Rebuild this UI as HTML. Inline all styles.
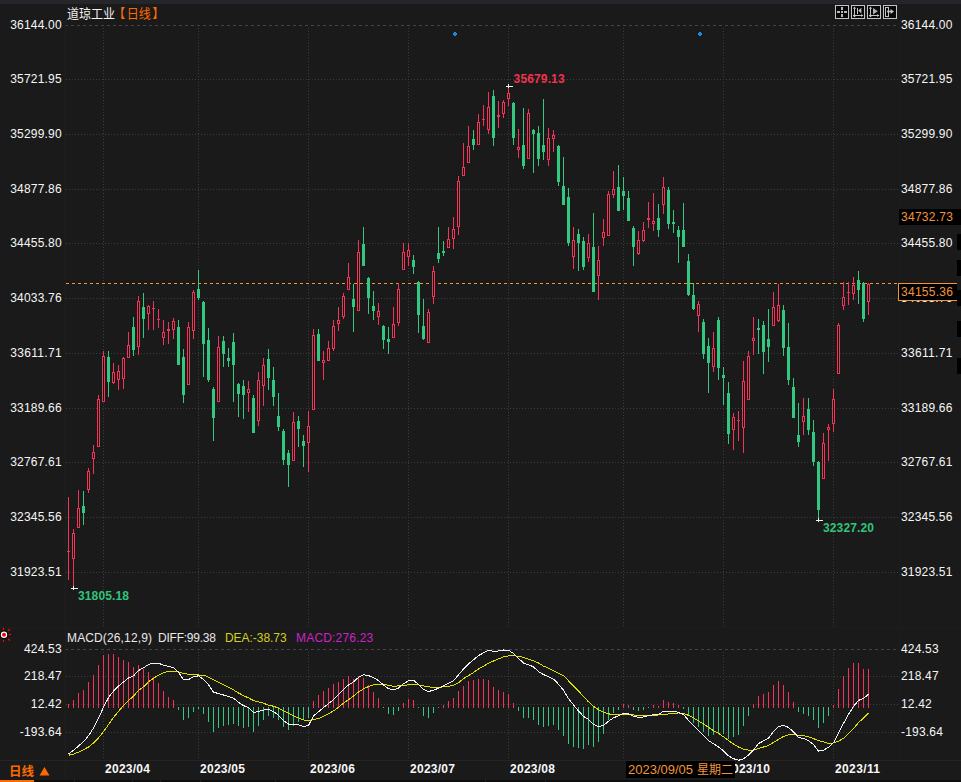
<!DOCTYPE html>
<html lang="zh"><head><meta charset="utf-8"><title>道琼工业 日线</title>
<style>html,body{margin:0;padding:0;background:#1a1a1a;overflow:hidden}body{width:961px;height:782px;font-family:"Liberation Sans","Noto Sans CJK SC",sans-serif}</style>
</head><body>
<svg width="961" height="782" viewBox="0 0 961 782" style="display:block">
<rect width="961" height="782" fill="#1a1a1a"/>
<rect x="0" y="0" width="961" height="4" fill="#25252a"/>
<g shape-rendering="crispEdges">
<rect x="65" y="20" width="1" height="760" fill="#1f1f1f"/>
<rect x="899" y="20" width="1" height="740" fill="#1c1c1c"/>
<rect x="0" y="760" width="961" height="1" fill="#242424"/>
<rect x="0" y="627" width="961" height="1" fill="#1e1e1e"/>
<rect x="64" y="25" width="1" height="1" fill="#212121"/><rect x="900" y="25" width="1" height="1" fill="#212121"/>
<rect x="64" y="35" width="1" height="1" fill="#212121"/><rect x="900" y="35" width="1" height="1" fill="#212121"/>
<rect x="64" y="46" width="1" height="1" fill="#212121"/><rect x="900" y="46" width="1" height="1" fill="#212121"/>
<rect x="64" y="57" width="1" height="1" fill="#212121"/><rect x="900" y="57" width="1" height="1" fill="#212121"/>
<rect x="64" y="68" width="1" height="1" fill="#212121"/><rect x="900" y="68" width="1" height="1" fill="#212121"/>
<rect x="64" y="79" width="1" height="1" fill="#212121"/><rect x="900" y="79" width="1" height="1" fill="#212121"/>
<rect x="64" y="90" width="1" height="1" fill="#212121"/><rect x="900" y="90" width="1" height="1" fill="#212121"/>
<rect x="64" y="101" width="1" height="1" fill="#212121"/><rect x="900" y="101" width="1" height="1" fill="#212121"/>
<rect x="64" y="112" width="1" height="1" fill="#212121"/><rect x="900" y="112" width="1" height="1" fill="#212121"/>
<rect x="64" y="123" width="1" height="1" fill="#212121"/><rect x="900" y="123" width="1" height="1" fill="#212121"/>
<rect x="64" y="134" width="1" height="1" fill="#212121"/><rect x="900" y="134" width="1" height="1" fill="#212121"/>
<rect x="64" y="145" width="1" height="1" fill="#212121"/><rect x="900" y="145" width="1" height="1" fill="#212121"/>
<rect x="64" y="156" width="1" height="1" fill="#212121"/><rect x="900" y="156" width="1" height="1" fill="#212121"/>
<rect x="64" y="167" width="1" height="1" fill="#212121"/><rect x="900" y="167" width="1" height="1" fill="#212121"/>
<rect x="64" y="178" width="1" height="1" fill="#212121"/><rect x="900" y="178" width="1" height="1" fill="#212121"/>
<rect x="64" y="189" width="1" height="1" fill="#212121"/><rect x="900" y="189" width="1" height="1" fill="#212121"/>
<rect x="64" y="200" width="1" height="1" fill="#212121"/><rect x="900" y="200" width="1" height="1" fill="#212121"/>
<rect x="64" y="210" width="1" height="1" fill="#212121"/><rect x="900" y="210" width="1" height="1" fill="#212121"/>
<rect x="64" y="221" width="1" height="1" fill="#212121"/><rect x="900" y="221" width="1" height="1" fill="#212121"/>
<rect x="64" y="232" width="1" height="1" fill="#212121"/><rect x="900" y="232" width="1" height="1" fill="#212121"/>
<rect x="64" y="243" width="1" height="1" fill="#212121"/><rect x="900" y="243" width="1" height="1" fill="#212121"/>
<rect x="64" y="254" width="1" height="1" fill="#212121"/><rect x="900" y="254" width="1" height="1" fill="#212121"/>
<rect x="64" y="265" width="1" height="1" fill="#212121"/><rect x="900" y="265" width="1" height="1" fill="#212121"/>
<rect x="64" y="276" width="1" height="1" fill="#212121"/><rect x="900" y="276" width="1" height="1" fill="#212121"/>
<rect x="64" y="287" width="1" height="1" fill="#212121"/><rect x="900" y="287" width="1" height="1" fill="#212121"/>
<rect x="64" y="298" width="1" height="1" fill="#212121"/><rect x="900" y="298" width="1" height="1" fill="#212121"/>
<rect x="64" y="309" width="1" height="1" fill="#212121"/><rect x="900" y="309" width="1" height="1" fill="#212121"/>
<rect x="64" y="320" width="1" height="1" fill="#212121"/><rect x="900" y="320" width="1" height="1" fill="#212121"/>
<rect x="64" y="331" width="1" height="1" fill="#212121"/><rect x="900" y="331" width="1" height="1" fill="#212121"/>
<rect x="64" y="342" width="1" height="1" fill="#212121"/><rect x="900" y="342" width="1" height="1" fill="#212121"/>
<rect x="64" y="353" width="1" height="1" fill="#212121"/><rect x="900" y="353" width="1" height="1" fill="#212121"/>
<rect x="64" y="364" width="1" height="1" fill="#212121"/><rect x="900" y="364" width="1" height="1" fill="#212121"/>
<rect x="64" y="375" width="1" height="1" fill="#212121"/><rect x="900" y="375" width="1" height="1" fill="#212121"/>
<rect x="64" y="386" width="1" height="1" fill="#212121"/><rect x="900" y="386" width="1" height="1" fill="#212121"/>
<rect x="64" y="396" width="1" height="1" fill="#212121"/><rect x="900" y="396" width="1" height="1" fill="#212121"/>
<rect x="64" y="407" width="1" height="1" fill="#212121"/><rect x="900" y="407" width="1" height="1" fill="#212121"/>
<rect x="64" y="418" width="1" height="1" fill="#212121"/><rect x="900" y="418" width="1" height="1" fill="#212121"/>
<rect x="64" y="429" width="1" height="1" fill="#212121"/><rect x="900" y="429" width="1" height="1" fill="#212121"/>
<rect x="64" y="440" width="1" height="1" fill="#212121"/><rect x="900" y="440" width="1" height="1" fill="#212121"/>
<rect x="64" y="451" width="1" height="1" fill="#212121"/><rect x="900" y="451" width="1" height="1" fill="#212121"/>
<rect x="64" y="462" width="1" height="1" fill="#212121"/><rect x="900" y="462" width="1" height="1" fill="#212121"/>
<rect x="64" y="473" width="1" height="1" fill="#212121"/><rect x="900" y="473" width="1" height="1" fill="#212121"/>
<rect x="64" y="484" width="1" height="1" fill="#212121"/><rect x="900" y="484" width="1" height="1" fill="#212121"/>
<rect x="64" y="495" width="1" height="1" fill="#212121"/><rect x="900" y="495" width="1" height="1" fill="#212121"/>
<rect x="64" y="506" width="1" height="1" fill="#212121"/><rect x="900" y="506" width="1" height="1" fill="#212121"/>
<rect x="64" y="517" width="1" height="1" fill="#212121"/><rect x="900" y="517" width="1" height="1" fill="#212121"/>
<rect x="64" y="528" width="1" height="1" fill="#212121"/><rect x="900" y="528" width="1" height="1" fill="#212121"/>
<rect x="64" y="539" width="1" height="1" fill="#212121"/><rect x="900" y="539" width="1" height="1" fill="#212121"/>
<rect x="64" y="550" width="1" height="1" fill="#212121"/><rect x="900" y="550" width="1" height="1" fill="#212121"/>
<rect x="64" y="561" width="1" height="1" fill="#212121"/><rect x="900" y="561" width="1" height="1" fill="#212121"/>
<rect x="64" y="572" width="1" height="1" fill="#212121"/><rect x="900" y="572" width="1" height="1" fill="#212121"/>
<line x1="66" y1="25.5" x2="898" y2="25.5" stroke="#464646" stroke-width="1" stroke-dasharray="3 3" stroke-dashoffset="1"/>
<line x1="66" y1="79.5" x2="898" y2="79.5" stroke="#3c3c3c" stroke-width="1" stroke-dasharray="1 2"/>
<line x1="66" y1="134.5" x2="898" y2="134.5" stroke="#3c3c3c" stroke-width="1" stroke-dasharray="1 2"/>
<line x1="66" y1="189.5" x2="898" y2="189.5" stroke="#3c3c3c" stroke-width="1" stroke-dasharray="1 2"/>
<line x1="66" y1="243.5" x2="898" y2="243.5" stroke="#3c3c3c" stroke-width="1" stroke-dasharray="1 2"/>
<line x1="66" y1="298.5" x2="898" y2="298.5" stroke="#3c3c3c" stroke-width="1" stroke-dasharray="1 2"/>
<line x1="66" y1="353.5" x2="898" y2="353.5" stroke="#3c3c3c" stroke-width="1" stroke-dasharray="1 2"/>
<line x1="66" y1="408.5" x2="898" y2="408.5" stroke="#3c3c3c" stroke-width="1" stroke-dasharray="1 2"/>
<line x1="66" y1="462.5" x2="898" y2="462.5" stroke="#3c3c3c" stroke-width="1" stroke-dasharray="1 2"/>
<line x1="66" y1="517.5" x2="898" y2="517.5" stroke="#3c3c3c" stroke-width="1" stroke-dasharray="1 2"/>
<line x1="66" y1="572.5" x2="898" y2="572.5" stroke="#3c3c3c" stroke-width="1" stroke-dasharray="1 2"/>
<line x1="103.5" y1="28" x2="103.5" y2="627" stroke="#3c3c3c" stroke-width="1" stroke-dasharray="1 2"/>
<line x1="103.5" y1="652" x2="103.5" y2="760" stroke="#3c3c3c" stroke-width="1" stroke-dasharray="1 2"/>
<line x1="198.5" y1="28" x2="198.5" y2="627" stroke="#3c3c3c" stroke-width="1" stroke-dasharray="1 2"/>
<line x1="198.5" y1="652" x2="198.5" y2="760" stroke="#3c3c3c" stroke-width="1" stroke-dasharray="1 2"/>
<line x1="308.5" y1="28" x2="308.5" y2="627" stroke="#3c3c3c" stroke-width="1" stroke-dasharray="1 2"/>
<line x1="308.5" y1="652" x2="308.5" y2="760" stroke="#3c3c3c" stroke-width="1" stroke-dasharray="1 2"/>
<line x1="408.5" y1="28" x2="408.5" y2="627" stroke="#3c3c3c" stroke-width="1" stroke-dasharray="1 2"/>
<line x1="408.5" y1="652" x2="408.5" y2="760" stroke="#3c3c3c" stroke-width="1" stroke-dasharray="1 2"/>
<line x1="508.5" y1="28" x2="508.5" y2="627" stroke="#3c3c3c" stroke-width="1" stroke-dasharray="1 2"/>
<line x1="508.5" y1="652" x2="508.5" y2="760" stroke="#3c3c3c" stroke-width="1" stroke-dasharray="1 2"/>
<line x1="623.5" y1="28" x2="623.5" y2="627" stroke="#3c3c3c" stroke-width="1" stroke-dasharray="1 2"/>
<line x1="623.5" y1="652" x2="623.5" y2="760" stroke="#3c3c3c" stroke-width="1" stroke-dasharray="1 2"/>
<line x1="723.5" y1="28" x2="723.5" y2="627" stroke="#3c3c3c" stroke-width="1" stroke-dasharray="1 2"/>
<line x1="723.5" y1="652" x2="723.5" y2="760" stroke="#3c3c3c" stroke-width="1" stroke-dasharray="1 2"/>
<line x1="833.5" y1="28" x2="833.5" y2="627" stroke="#3c3c3c" stroke-width="1" stroke-dasharray="1 2"/>
<line x1="833.5" y1="652" x2="833.5" y2="760" stroke="#3c3c3c" stroke-width="1" stroke-dasharray="1 2"/>
<line x1="66" y1="649.5" x2="898" y2="649.5" stroke="#464646" stroke-width="1" stroke-dasharray="3 3" stroke-dashoffset="1"/>
<line x1="66" y1="676.5" x2="898" y2="676.5" stroke="#3c3c3c" stroke-width="1" stroke-dasharray="1 2"/>
<line x1="66" y1="704.5" x2="898" y2="704.5" stroke="#3c3c3c" stroke-width="1" stroke-dasharray="1 2"/>
<line x1="66" y1="732.5" x2="898" y2="732.5" stroke="#3c3c3c" stroke-width="1" stroke-dasharray="1 2"/>
<line x1="66" y1="283.5" x2="898" y2="283.5" stroke="#f0953a" stroke-width="1" stroke-dasharray="3 3"/>
<rect x="68" y="497" width="1" height="83" fill="#f5335a"/>
<rect x="67" y="551" width="3" height="1" fill="#f5335a"/>
<rect x="73" y="529" width="1" height="4" fill="#f5335a"/>
<rect x="73" y="559" width="1" height="29" fill="#f5335a"/>
<rect x="72" y="533" width="3" height="26" fill="#f5335a"/>
<rect x="73" y="534" width="1" height="24" fill="#0a0a0a"/>
<rect x="78" y="490" width="1" height="18" fill="#f5335a"/>
<rect x="77" y="508" width="3" height="20" fill="#f5335a"/>
<rect x="78" y="509" width="1" height="18" fill="#0a0a0a"/>
<rect x="83" y="491" width="1" height="34" fill="#33c880"/>
<rect x="82" y="506" width="3" height="7" fill="#33c880"/>
<rect x="88" y="468" width="1" height="3" fill="#f5335a"/>
<rect x="88" y="490" width="1" height="3" fill="#f5335a"/>
<rect x="87" y="471" width="3" height="19" fill="#f5335a"/>
<rect x="88" y="472" width="1" height="17" fill="#0a0a0a"/>
<rect x="93" y="445" width="1" height="7" fill="#f5335a"/>
<rect x="93" y="459" width="1" height="15" fill="#f5335a"/>
<rect x="92" y="452" width="3" height="7" fill="#f5335a"/>
<rect x="93" y="453" width="1" height="5" fill="#0a0a0a"/>
<rect x="98" y="395" width="1" height="4" fill="#f5335a"/>
<rect x="97" y="399" width="3" height="48" fill="#f5335a"/>
<rect x="98" y="400" width="1" height="46" fill="#0a0a0a"/>
<rect x="103" y="351" width="1" height="5" fill="#f5335a"/>
<rect x="102" y="356" width="3" height="46" fill="#f5335a"/>
<rect x="103" y="357" width="1" height="44" fill="#0a0a0a"/>
<rect x="108" y="351" width="1" height="46" fill="#33c880"/>
<rect x="107" y="357" width="3" height="25" fill="#33c880"/>
<rect x="113" y="363" width="1" height="9" fill="#f5335a"/>
<rect x="113" y="383" width="1" height="1" fill="#f5335a"/>
<rect x="112" y="372" width="3" height="11" fill="#f5335a"/>
<rect x="113" y="373" width="1" height="9" fill="#0a0a0a"/>
<rect x="118" y="365" width="1" height="6" fill="#f5335a"/>
<rect x="118" y="380" width="1" height="10" fill="#f5335a"/>
<rect x="117" y="371" width="3" height="9" fill="#f5335a"/>
<rect x="118" y="372" width="1" height="7" fill="#0a0a0a"/>
<rect x="123" y="357" width="1" height="1" fill="#f5335a"/>
<rect x="123" y="379" width="1" height="10" fill="#f5335a"/>
<rect x="122" y="358" width="3" height="21" fill="#f5335a"/>
<rect x="123" y="359" width="1" height="19" fill="#0a0a0a"/>
<rect x="128" y="332" width="1" height="13" fill="#f5335a"/>
<rect x="127" y="345" width="3" height="13" fill="#f5335a"/>
<rect x="128" y="346" width="1" height="11" fill="#0a0a0a"/>
<rect x="133" y="317" width="1" height="39" fill="#33c880"/>
<rect x="132" y="327" width="3" height="23" fill="#33c880"/>
<rect x="138" y="296" width="1" height="5" fill="#f5335a"/>
<rect x="138" y="347" width="1" height="8" fill="#f5335a"/>
<rect x="137" y="301" width="3" height="46" fill="#f5335a"/>
<rect x="138" y="302" width="1" height="44" fill="#0a0a0a"/>
<rect x="143" y="293" width="1" height="45" fill="#33c880"/>
<rect x="142" y="307" width="3" height="12" fill="#33c880"/>
<rect x="148" y="305" width="1" height="1" fill="#f5335a"/>
<rect x="148" y="314" width="1" height="16" fill="#f5335a"/>
<rect x="147" y="306" width="3" height="8" fill="#f5335a"/>
<rect x="148" y="307" width="1" height="6" fill="#0a0a0a"/>
<rect x="153" y="301" width="1" height="29" fill="#f5335a"/>
<rect x="152" y="308" width="3" height="1" fill="#f5335a"/>
<rect x="158" y="309" width="1" height="19" fill="#f5335a"/>
<rect x="157" y="319" width="3" height="1" fill="#f5335a"/>
<rect x="163" y="320" width="1" height="12" fill="#f5335a"/>
<rect x="163" y="338" width="1" height="7" fill="#f5335a"/>
<rect x="162" y="332" width="3" height="6" fill="#f5335a"/>
<rect x="163" y="333" width="1" height="4" fill="#0a0a0a"/>
<rect x="168" y="322" width="1" height="7" fill="#f5335a"/>
<rect x="168" y="331" width="1" height="13" fill="#f5335a"/>
<rect x="167" y="329" width="3" height="2" fill="#f5335a"/>
<rect x="173" y="318" width="1" height="3" fill="#f5335a"/>
<rect x="173" y="330" width="1" height="9" fill="#f5335a"/>
<rect x="172" y="321" width="3" height="9" fill="#f5335a"/>
<rect x="173" y="322" width="1" height="7" fill="#0a0a0a"/>
<rect x="178" y="320" width="1" height="45" fill="#33c880"/>
<rect x="177" y="327" width="3" height="38" fill="#33c880"/>
<rect x="183" y="349" width="1" height="54" fill="#33c880"/>
<rect x="182" y="357" width="3" height="38" fill="#33c880"/>
<rect x="188" y="322" width="1" height="5" fill="#f5335a"/>
<rect x="187" y="327" width="3" height="58" fill="#f5335a"/>
<rect x="188" y="328" width="1" height="56" fill="#0a0a0a"/>
<rect x="193" y="290" width="1" height="2" fill="#f5335a"/>
<rect x="193" y="331" width="1" height="8" fill="#f5335a"/>
<rect x="192" y="292" width="3" height="39" fill="#f5335a"/>
<rect x="193" y="293" width="1" height="37" fill="#0a0a0a"/>
<rect x="198" y="270" width="1" height="30" fill="#33c880"/>
<rect x="197" y="289" width="3" height="9" fill="#33c880"/>
<rect x="203" y="301" width="1" height="76" fill="#33c880"/>
<rect x="202" y="302" width="3" height="42" fill="#33c880"/>
<rect x="208" y="328" width="1" height="54" fill="#33c880"/>
<rect x="207" y="340" width="3" height="40" fill="#33c880"/>
<rect x="213" y="387" width="1" height="54" fill="#33c880"/>
<rect x="212" y="389" width="3" height="29" fill="#33c880"/>
<rect x="218" y="336" width="1" height="11" fill="#f5335a"/>
<rect x="217" y="347" width="3" height="55" fill="#f5335a"/>
<rect x="218" y="348" width="1" height="53" fill="#0a0a0a"/>
<rect x="223" y="336" width="1" height="31" fill="#33c880"/>
<rect x="222" y="341" width="3" height="13" fill="#33c880"/>
<rect x="228" y="348" width="1" height="19" fill="#33c880"/>
<rect x="227" y="358" width="3" height="3" fill="#33c880"/>
<rect x="233" y="333" width="1" height="69" fill="#33c880"/>
<rect x="232" y="342" width="3" height="23" fill="#33c880"/>
<rect x="238" y="383" width="1" height="34" fill="#33c880"/>
<rect x="237" y="384" width="3" height="10" fill="#33c880"/>
<rect x="243" y="380" width="1" height="39" fill="#33c880"/>
<rect x="242" y="386" width="3" height="9" fill="#33c880"/>
<rect x="248" y="381" width="1" height="8" fill="#f5335a"/>
<rect x="248" y="393" width="1" height="19" fill="#f5335a"/>
<rect x="247" y="389" width="3" height="4" fill="#f5335a"/>
<rect x="248" y="390" width="1" height="2" fill="#0a0a0a"/>
<rect x="253" y="395" width="1" height="38" fill="#33c880"/>
<rect x="252" y="398" width="3" height="35" fill="#33c880"/>
<rect x="258" y="372" width="1" height="8" fill="#f5335a"/>
<rect x="258" y="421" width="1" height="5" fill="#f5335a"/>
<rect x="257" y="380" width="3" height="41" fill="#f5335a"/>
<rect x="258" y="381" width="1" height="39" fill="#0a0a0a"/>
<rect x="263" y="358" width="1" height="7" fill="#f5335a"/>
<rect x="263" y="386" width="1" height="20" fill="#f5335a"/>
<rect x="262" y="365" width="3" height="21" fill="#f5335a"/>
<rect x="263" y="366" width="1" height="19" fill="#0a0a0a"/>
<rect x="268" y="349" width="1" height="41" fill="#33c880"/>
<rect x="267" y="359" width="3" height="19" fill="#33c880"/>
<rect x="273" y="367" width="1" height="39" fill="#33c880"/>
<rect x="272" y="380" width="3" height="17" fill="#33c880"/>
<rect x="278" y="393" width="1" height="38" fill="#33c880"/>
<rect x="277" y="416" width="3" height="11" fill="#33c880"/>
<rect x="283" y="429" width="1" height="36" fill="#33c880"/>
<rect x="282" y="431" width="3" height="29" fill="#33c880"/>
<rect x="288" y="450" width="1" height="37" fill="#33c880"/>
<rect x="287" y="453" width="3" height="12" fill="#33c880"/>
<rect x="293" y="412" width="1" height="10" fill="#f5335a"/>
<rect x="292" y="422" width="3" height="39" fill="#f5335a"/>
<rect x="293" y="423" width="1" height="37" fill="#0a0a0a"/>
<rect x="298" y="416" width="1" height="31" fill="#33c880"/>
<rect x="297" y="421" width="3" height="8" fill="#33c880"/>
<rect x="303" y="435" width="1" height="32" fill="#33c880"/>
<rect x="302" y="441" width="3" height="5" fill="#33c880"/>
<rect x="308" y="411" width="1" height="15" fill="#f5335a"/>
<rect x="308" y="443" width="1" height="29" fill="#f5335a"/>
<rect x="307" y="426" width="3" height="17" fill="#f5335a"/>
<rect x="308" y="427" width="1" height="15" fill="#0a0a0a"/>
<rect x="313" y="329" width="1" height="6" fill="#f5335a"/>
<rect x="312" y="335" width="3" height="75" fill="#f5335a"/>
<rect x="313" y="336" width="1" height="73" fill="#0a0a0a"/>
<rect x="318" y="329" width="1" height="32" fill="#33c880"/>
<rect x="317" y="334" width="3" height="27" fill="#33c880"/>
<rect x="323" y="351" width="1" height="9" fill="#f5335a"/>
<rect x="323" y="363" width="1" height="17" fill="#f5335a"/>
<rect x="322" y="360" width="3" height="3" fill="#f5335a"/>
<rect x="323" y="361" width="1" height="1" fill="#0a0a0a"/>
<rect x="328" y="341" width="1" height="7" fill="#f5335a"/>
<rect x="327" y="348" width="3" height="13" fill="#f5335a"/>
<rect x="328" y="349" width="1" height="11" fill="#0a0a0a"/>
<rect x="333" y="320" width="1" height="6" fill="#f5335a"/>
<rect x="333" y="349" width="1" height="2" fill="#f5335a"/>
<rect x="332" y="326" width="3" height="23" fill="#f5335a"/>
<rect x="333" y="327" width="1" height="21" fill="#0a0a0a"/>
<rect x="338" y="307" width="1" height="13" fill="#f5335a"/>
<rect x="338" y="324" width="1" height="7" fill="#f5335a"/>
<rect x="337" y="320" width="3" height="4" fill="#f5335a"/>
<rect x="338" y="321" width="1" height="2" fill="#0a0a0a"/>
<rect x="343" y="293" width="1" height="3" fill="#f5335a"/>
<rect x="343" y="317" width="1" height="2" fill="#f5335a"/>
<rect x="342" y="296" width="3" height="21" fill="#f5335a"/>
<rect x="343" y="297" width="1" height="19" fill="#0a0a0a"/>
<rect x="348" y="263" width="1" height="14" fill="#f5335a"/>
<rect x="347" y="277" width="3" height="13" fill="#f5335a"/>
<rect x="348" y="278" width="1" height="11" fill="#0a0a0a"/>
<rect x="353" y="284" width="1" height="48" fill="#33c880"/>
<rect x="352" y="299" width="3" height="8" fill="#33c880"/>
<rect x="358" y="240" width="1" height="12" fill="#f5335a"/>
<rect x="357" y="252" width="3" height="59" fill="#f5335a"/>
<rect x="358" y="253" width="1" height="57" fill="#0a0a0a"/>
<rect x="363" y="227" width="1" height="39" fill="#33c880"/>
<rect x="362" y="244" width="3" height="22" fill="#33c880"/>
<rect x="368" y="277" width="1" height="37" fill="#33c880"/>
<rect x="367" y="278" width="3" height="20" fill="#33c880"/>
<rect x="373" y="291" width="1" height="29" fill="#33c880"/>
<rect x="372" y="306" width="3" height="5" fill="#33c880"/>
<rect x="378" y="303" width="1" height="8" fill="#f5335a"/>
<rect x="378" y="317" width="1" height="8" fill="#f5335a"/>
<rect x="377" y="311" width="3" height="6" fill="#f5335a"/>
<rect x="378" y="312" width="1" height="4" fill="#0a0a0a"/>
<rect x="383" y="325" width="1" height="24" fill="#33c880"/>
<rect x="382" y="326" width="3" height="14" fill="#33c880"/>
<rect x="388" y="327" width="1" height="27" fill="#33c880"/>
<rect x="387" y="339" width="3" height="3" fill="#33c880"/>
<rect x="393" y="307" width="1" height="17" fill="#f5335a"/>
<rect x="392" y="324" width="3" height="14" fill="#f5335a"/>
<rect x="393" y="325" width="1" height="12" fill="#0a0a0a"/>
<rect x="398" y="283" width="1" height="6" fill="#f5335a"/>
<rect x="398" y="323" width="1" height="3" fill="#f5335a"/>
<rect x="397" y="289" width="3" height="34" fill="#f5335a"/>
<rect x="398" y="290" width="1" height="32" fill="#0a0a0a"/>
<rect x="403" y="243" width="1" height="9" fill="#f5335a"/>
<rect x="402" y="252" width="3" height="18" fill="#f5335a"/>
<rect x="403" y="253" width="1" height="16" fill="#0a0a0a"/>
<rect x="408" y="243" width="1" height="7" fill="#f5335a"/>
<rect x="408" y="257" width="1" height="9" fill="#f5335a"/>
<rect x="407" y="250" width="3" height="7" fill="#f5335a"/>
<rect x="408" y="251" width="1" height="5" fill="#0a0a0a"/>
<rect x="413" y="255" width="1" height="19" fill="#33c880"/>
<rect x="412" y="260" width="3" height="7" fill="#33c880"/>
<rect x="418" y="281" width="1" height="52" fill="#33c880"/>
<rect x="417" y="282" width="3" height="33" fill="#33c880"/>
<rect x="423" y="299" width="1" height="41" fill="#33c880"/>
<rect x="422" y="326" width="3" height="13" fill="#33c880"/>
<rect x="428" y="309" width="1" height="3" fill="#f5335a"/>
<rect x="427" y="312" width="3" height="31" fill="#f5335a"/>
<rect x="428" y="313" width="1" height="29" fill="#0a0a0a"/>
<rect x="433" y="266" width="1" height="5" fill="#f5335a"/>
<rect x="433" y="297" width="1" height="7" fill="#f5335a"/>
<rect x="432" y="271" width="3" height="26" fill="#f5335a"/>
<rect x="433" y="272" width="1" height="24" fill="#0a0a0a"/>
<rect x="438" y="227" width="1" height="36" fill="#33c880"/>
<rect x="437" y="253" width="3" height="6" fill="#33c880"/>
<rect x="443" y="241" width="1" height="15" fill="#33c880"/>
<rect x="442" y="251" width="3" height="2" fill="#33c880"/>
<rect x="448" y="227" width="1" height="12" fill="#f5335a"/>
<rect x="447" y="239" width="3" height="9" fill="#f5335a"/>
<rect x="448" y="240" width="1" height="7" fill="#0a0a0a"/>
<rect x="453" y="217" width="1" height="12" fill="#f5335a"/>
<rect x="453" y="239" width="1" height="10" fill="#f5335a"/>
<rect x="452" y="229" width="3" height="10" fill="#f5335a"/>
<rect x="453" y="230" width="1" height="8" fill="#0a0a0a"/>
<rect x="458" y="176" width="1" height="5" fill="#f5335a"/>
<rect x="458" y="227" width="1" height="8" fill="#f5335a"/>
<rect x="457" y="181" width="3" height="46" fill="#f5335a"/>
<rect x="458" y="182" width="1" height="44" fill="#0a0a0a"/>
<rect x="463" y="143" width="1" height="24" fill="#f5335a"/>
<rect x="462" y="167" width="3" height="9" fill="#f5335a"/>
<rect x="463" y="168" width="1" height="7" fill="#0a0a0a"/>
<rect x="468" y="126" width="1" height="20" fill="#f5335a"/>
<rect x="467" y="146" width="3" height="17" fill="#f5335a"/>
<rect x="468" y="147" width="1" height="15" fill="#0a0a0a"/>
<rect x="473" y="130" width="1" height="20" fill="#33c880"/>
<rect x="472" y="139" width="3" height="6" fill="#33c880"/>
<rect x="478" y="114" width="1" height="8" fill="#f5335a"/>
<rect x="477" y="122" width="3" height="23" fill="#f5335a"/>
<rect x="478" y="123" width="1" height="21" fill="#0a0a0a"/>
<rect x="483" y="105" width="1" height="21" fill="#f5335a"/>
<rect x="482" y="119" width="3" height="1" fill="#f5335a"/>
<rect x="488" y="92" width="1" height="15" fill="#f5335a"/>
<rect x="488" y="130" width="1" height="4" fill="#f5335a"/>
<rect x="487" y="107" width="3" height="23" fill="#f5335a"/>
<rect x="488" y="108" width="1" height="21" fill="#0a0a0a"/>
<rect x="493" y="90" width="1" height="56" fill="#33c880"/>
<rect x="492" y="96" width="3" height="42" fill="#33c880"/>
<rect x="498" y="101" width="1" height="14" fill="#f5335a"/>
<rect x="498" y="117" width="1" height="11" fill="#f5335a"/>
<rect x="497" y="115" width="3" height="2" fill="#f5335a"/>
<rect x="503" y="100" width="1" height="2" fill="#f5335a"/>
<rect x="503" y="114" width="1" height="4" fill="#f5335a"/>
<rect x="502" y="102" width="3" height="12" fill="#f5335a"/>
<rect x="503" y="103" width="1" height="10" fill="#0a0a0a"/>
<rect x="508" y="88" width="1" height="5" fill="#f5335a"/>
<rect x="508" y="99" width="1" height="7" fill="#f5335a"/>
<rect x="507" y="93" width="3" height="6" fill="#f5335a"/>
<rect x="508" y="94" width="1" height="4" fill="#0a0a0a"/>
<rect x="513" y="102" width="1" height="43" fill="#33c880"/>
<rect x="512" y="103" width="3" height="35" fill="#33c880"/>
<rect x="518" y="129" width="1" height="18" fill="#f5335a"/>
<rect x="518" y="150" width="1" height="8" fill="#f5335a"/>
<rect x="517" y="147" width="3" height="3" fill="#f5335a"/>
<rect x="518" y="148" width="1" height="1" fill="#0a0a0a"/>
<rect x="523" y="108" width="1" height="61" fill="#33c880"/>
<rect x="522" y="145" width="3" height="21" fill="#33c880"/>
<rect x="528" y="109" width="1" height="4" fill="#f5335a"/>
<rect x="527" y="113" width="3" height="46" fill="#f5335a"/>
<rect x="528" y="114" width="1" height="44" fill="#0a0a0a"/>
<rect x="533" y="129" width="1" height="44" fill="#33c880"/>
<rect x="532" y="130" width="3" height="4" fill="#33c880"/>
<rect x="538" y="126" width="1" height="40" fill="#33c880"/>
<rect x="537" y="133" width="3" height="26" fill="#33c880"/>
<rect x="543" y="99" width="1" height="61" fill="#33c880"/>
<rect x="542" y="145" width="3" height="7" fill="#33c880"/>
<rect x="548" y="128" width="1" height="10" fill="#f5335a"/>
<rect x="548" y="160" width="1" height="6" fill="#f5335a"/>
<rect x="547" y="138" width="3" height="22" fill="#f5335a"/>
<rect x="548" y="139" width="1" height="20" fill="#0a0a0a"/>
<rect x="553" y="130" width="1" height="5" fill="#f5335a"/>
<rect x="553" y="139" width="1" height="13" fill="#f5335a"/>
<rect x="552" y="135" width="3" height="4" fill="#f5335a"/>
<rect x="553" y="136" width="1" height="2" fill="#0a0a0a"/>
<rect x="558" y="145" width="1" height="41" fill="#33c880"/>
<rect x="557" y="146" width="3" height="36" fill="#33c880"/>
<rect x="563" y="157" width="1" height="48" fill="#33c880"/>
<rect x="562" y="186" width="3" height="19" fill="#33c880"/>
<rect x="568" y="188" width="1" height="58" fill="#33c880"/>
<rect x="567" y="197" width="3" height="46" fill="#33c880"/>
<rect x="573" y="227" width="1" height="13" fill="#f5335a"/>
<rect x="573" y="257" width="1" height="12" fill="#f5335a"/>
<rect x="572" y="240" width="3" height="17" fill="#f5335a"/>
<rect x="573" y="241" width="1" height="15" fill="#0a0a0a"/>
<rect x="578" y="229" width="1" height="42" fill="#33c880"/>
<rect x="577" y="234" width="3" height="9" fill="#33c880"/>
<rect x="583" y="237" width="1" height="33" fill="#33c880"/>
<rect x="582" y="241" width="3" height="26" fill="#33c880"/>
<rect x="588" y="234" width="1" height="9" fill="#f5335a"/>
<rect x="588" y="258" width="1" height="4" fill="#f5335a"/>
<rect x="587" y="243" width="3" height="15" fill="#f5335a"/>
<rect x="588" y="244" width="1" height="13" fill="#0a0a0a"/>
<rect x="593" y="213" width="1" height="79" fill="#33c880"/>
<rect x="592" y="247" width="3" height="45" fill="#33c880"/>
<rect x="598" y="246" width="1" height="14" fill="#f5335a"/>
<rect x="598" y="276" width="1" height="24" fill="#f5335a"/>
<rect x="597" y="260" width="3" height="16" fill="#f5335a"/>
<rect x="598" y="261" width="1" height="14" fill="#0a0a0a"/>
<rect x="603" y="219" width="1" height="13" fill="#f5335a"/>
<rect x="603" y="238" width="1" height="8" fill="#f5335a"/>
<rect x="602" y="232" width="3" height="6" fill="#f5335a"/>
<rect x="603" y="233" width="1" height="4" fill="#0a0a0a"/>
<rect x="608" y="191" width="1" height="3" fill="#f5335a"/>
<rect x="607" y="194" width="3" height="42" fill="#f5335a"/>
<rect x="608" y="195" width="1" height="40" fill="#0a0a0a"/>
<rect x="613" y="171" width="1" height="18" fill="#f5335a"/>
<rect x="613" y="195" width="1" height="3" fill="#f5335a"/>
<rect x="612" y="189" width="3" height="6" fill="#f5335a"/>
<rect x="613" y="190" width="1" height="4" fill="#0a0a0a"/>
<rect x="618" y="165" width="1" height="46" fill="#33c880"/>
<rect x="617" y="187" width="3" height="24" fill="#33c880"/>
<rect x="623" y="177" width="1" height="33" fill="#33c880"/>
<rect x="622" y="191" width="3" height="5" fill="#33c880"/>
<rect x="628" y="191" width="1" height="30" fill="#33c880"/>
<rect x="627" y="198" width="3" height="23" fill="#33c880"/>
<rect x="633" y="226" width="1" height="40" fill="#33c880"/>
<rect x="632" y="228" width="3" height="19" fill="#33c880"/>
<rect x="638" y="231" width="1" height="9" fill="#f5335a"/>
<rect x="638" y="254" width="1" height="1" fill="#f5335a"/>
<rect x="637" y="240" width="3" height="14" fill="#f5335a"/>
<rect x="638" y="241" width="1" height="12" fill="#0a0a0a"/>
<rect x="643" y="222" width="1" height="8" fill="#f5335a"/>
<rect x="643" y="241" width="1" height="1" fill="#f5335a"/>
<rect x="642" y="230" width="3" height="11" fill="#f5335a"/>
<rect x="643" y="231" width="1" height="9" fill="#0a0a0a"/>
<rect x="648" y="202" width="1" height="16" fill="#f5335a"/>
<rect x="648" y="220" width="1" height="8" fill="#f5335a"/>
<rect x="647" y="218" width="3" height="2" fill="#f5335a"/>
<rect x="653" y="193" width="1" height="28" fill="#f5335a"/>
<rect x="653" y="224" width="1" height="7" fill="#f5335a"/>
<rect x="652" y="221" width="3" height="3" fill="#f5335a"/>
<rect x="653" y="222" width="1" height="1" fill="#0a0a0a"/>
<rect x="658" y="204" width="1" height="33" fill="#33c880"/>
<rect x="657" y="218" width="3" height="12" fill="#33c880"/>
<rect x="663" y="177" width="1" height="10" fill="#f5335a"/>
<rect x="663" y="205" width="1" height="9" fill="#f5335a"/>
<rect x="662" y="187" width="3" height="18" fill="#f5335a"/>
<rect x="663" y="188" width="1" height="16" fill="#0a0a0a"/>
<rect x="668" y="187" width="1" height="42" fill="#33c880"/>
<rect x="667" y="190" width="3" height="34" fill="#33c880"/>
<rect x="673" y="210" width="1" height="23" fill="#33c880"/>
<rect x="672" y="222" width="3" height="2" fill="#33c880"/>
<rect x="678" y="226" width="1" height="37" fill="#33c880"/>
<rect x="677" y="230" width="3" height="7" fill="#33c880"/>
<rect x="683" y="203" width="1" height="44" fill="#33c880"/>
<rect x="682" y="230" width="3" height="17" fill="#33c880"/>
<rect x="688" y="254" width="1" height="42" fill="#33c880"/>
<rect x="687" y="261" width="3" height="34" fill="#33c880"/>
<rect x="693" y="283" width="1" height="27" fill="#33c880"/>
<rect x="692" y="295" width="3" height="14" fill="#33c880"/>
<rect x="698" y="301" width="1" height="3" fill="#f5335a"/>
<rect x="698" y="316" width="1" height="16" fill="#f5335a"/>
<rect x="697" y="304" width="3" height="12" fill="#f5335a"/>
<rect x="698" y="305" width="1" height="10" fill="#0a0a0a"/>
<rect x="703" y="319" width="1" height="40" fill="#33c880"/>
<rect x="702" y="322" width="3" height="32" fill="#33c880"/>
<rect x="708" y="338" width="1" height="55" fill="#33c880"/>
<rect x="707" y="346" width="3" height="17" fill="#33c880"/>
<rect x="713" y="332" width="1" height="16" fill="#f5335a"/>
<rect x="713" y="367" width="1" height="5" fill="#f5335a"/>
<rect x="712" y="348" width="3" height="19" fill="#f5335a"/>
<rect x="713" y="349" width="1" height="17" fill="#0a0a0a"/>
<rect x="718" y="317" width="1" height="63" fill="#33c880"/>
<rect x="717" y="320" width="3" height="48" fill="#33c880"/>
<rect x="723" y="367" width="1" height="38" fill="#33c880"/>
<rect x="722" y="375" width="3" height="3" fill="#33c880"/>
<rect x="728" y="382" width="1" height="62" fill="#33c880"/>
<rect x="727" y="393" width="3" height="41" fill="#33c880"/>
<rect x="733" y="413" width="1" height="4" fill="#f5335a"/>
<rect x="733" y="430" width="1" height="20" fill="#f5335a"/>
<rect x="732" y="417" width="3" height="13" fill="#f5335a"/>
<rect x="733" y="418" width="1" height="11" fill="#0a0a0a"/>
<rect x="738" y="411" width="1" height="30" fill="#f5335a"/>
<rect x="737" y="420" width="3" height="1" fill="#f5335a"/>
<rect x="743" y="361" width="1" height="20" fill="#f5335a"/>
<rect x="743" y="428" width="1" height="25" fill="#f5335a"/>
<rect x="742" y="381" width="3" height="47" fill="#f5335a"/>
<rect x="743" y="382" width="1" height="45" fill="#0a0a0a"/>
<rect x="748" y="351" width="1" height="5" fill="#f5335a"/>
<rect x="747" y="356" width="3" height="44" fill="#f5335a"/>
<rect x="748" y="357" width="1" height="42" fill="#0a0a0a"/>
<rect x="753" y="317" width="1" height="21" fill="#f5335a"/>
<rect x="753" y="341" width="1" height="14" fill="#f5335a"/>
<rect x="752" y="338" width="3" height="3" fill="#f5335a"/>
<rect x="753" y="339" width="1" height="1" fill="#0a0a0a"/>
<rect x="758" y="319" width="1" height="35" fill="#33c880"/>
<rect x="757" y="328" width="3" height="2" fill="#33c880"/>
<rect x="763" y="321" width="1" height="53" fill="#33c880"/>
<rect x="762" y="325" width="3" height="27" fill="#33c880"/>
<rect x="768" y="309" width="1" height="53" fill="#33c880"/>
<rect x="767" y="339" width="3" height="8" fill="#33c880"/>
<rect x="773" y="292" width="1" height="15" fill="#f5335a"/>
<rect x="772" y="307" width="3" height="19" fill="#f5335a"/>
<rect x="773" y="308" width="1" height="17" fill="#0a0a0a"/>
<rect x="778" y="284" width="1" height="21" fill="#f5335a"/>
<rect x="778" y="321" width="1" height="1" fill="#f5335a"/>
<rect x="777" y="305" width="3" height="16" fill="#f5335a"/>
<rect x="778" y="306" width="1" height="14" fill="#0a0a0a"/>
<rect x="783" y="305" width="1" height="51" fill="#33c880"/>
<rect x="782" y="310" width="3" height="38" fill="#33c880"/>
<rect x="788" y="323" width="1" height="62" fill="#33c880"/>
<rect x="787" y="347" width="3" height="33" fill="#33c880"/>
<rect x="793" y="378" width="1" height="40" fill="#33c880"/>
<rect x="792" y="387" width="3" height="31" fill="#33c880"/>
<rect x="798" y="403" width="1" height="44" fill="#33c880"/>
<rect x="797" y="435" width="3" height="7" fill="#33c880"/>
<rect x="803" y="398" width="1" height="18" fill="#f5335a"/>
<rect x="803" y="422" width="1" height="13" fill="#f5335a"/>
<rect x="802" y="416" width="3" height="6" fill="#f5335a"/>
<rect x="803" y="417" width="1" height="4" fill="#0a0a0a"/>
<rect x="808" y="398" width="1" height="37" fill="#33c880"/>
<rect x="807" y="409" width="3" height="21" fill="#33c880"/>
<rect x="813" y="420" width="1" height="46" fill="#33c880"/>
<rect x="812" y="432" width="3" height="30" fill="#33c880"/>
<rect x="818" y="461" width="1" height="59" fill="#33c880"/>
<rect x="817" y="462" width="3" height="48" fill="#33c880"/>
<rect x="823" y="433" width="1" height="10" fill="#f5335a"/>
<rect x="822" y="443" width="3" height="36" fill="#f5335a"/>
<rect x="823" y="444" width="1" height="34" fill="#0a0a0a"/>
<rect x="828" y="424" width="1" height="3" fill="#f5335a"/>
<rect x="828" y="430" width="1" height="31" fill="#f5335a"/>
<rect x="827" y="427" width="3" height="3" fill="#f5335a"/>
<rect x="828" y="428" width="1" height="1" fill="#0a0a0a"/>
<rect x="833" y="389" width="1" height="10" fill="#f5335a"/>
<rect x="833" y="424" width="1" height="8" fill="#f5335a"/>
<rect x="832" y="399" width="3" height="25" fill="#f5335a"/>
<rect x="833" y="400" width="1" height="23" fill="#0a0a0a"/>
<rect x="838" y="323" width="1" height="2" fill="#f5335a"/>
<rect x="837" y="325" width="3" height="49" fill="#f5335a"/>
<rect x="838" y="326" width="1" height="47" fill="#0a0a0a"/>
<rect x="843" y="282" width="1" height="15" fill="#f5335a"/>
<rect x="843" y="306" width="1" height="4" fill="#f5335a"/>
<rect x="842" y="297" width="3" height="9" fill="#f5335a"/>
<rect x="843" y="298" width="1" height="7" fill="#0a0a0a"/>
<rect x="848" y="282" width="1" height="23" fill="#f5335a"/>
<rect x="847" y="292" width="3" height="1" fill="#f5335a"/>
<rect x="853" y="277" width="1" height="8" fill="#f5335a"/>
<rect x="853" y="294" width="1" height="6" fill="#f5335a"/>
<rect x="852" y="285" width="3" height="9" fill="#f5335a"/>
<rect x="853" y="286" width="1" height="7" fill="#0a0a0a"/>
<rect x="858" y="271" width="1" height="33" fill="#33c880"/>
<rect x="857" y="280" width="3" height="10" fill="#33c880"/>
<rect x="863" y="282" width="1" height="40" fill="#33c880"/>
<rect x="862" y="283" width="3" height="36" fill="#33c880"/>
<rect x="868" y="283" width="1" height="1" fill="#f5335a"/>
<rect x="868" y="302" width="1" height="13" fill="#f5335a"/>
<rect x="867" y="284" width="3" height="18" fill="#f5335a"/>
<rect x="868" y="285" width="1" height="16" fill="#0a0a0a"/>
<rect x="68" y="704" width="1" height="4" fill="#f5335a"/>
<rect x="73" y="700" width="1" height="8" fill="#f5335a"/>
<rect x="78" y="693" width="1" height="15" fill="#f5335a"/>
<rect x="83" y="690" width="1" height="18" fill="#f5335a"/>
<rect x="88" y="682" width="1" height="26" fill="#f5335a"/>
<rect x="93" y="675" width="1" height="33" fill="#f5335a"/>
<rect x="98" y="665" width="1" height="43" fill="#f5335a"/>
<rect x="103" y="655" width="1" height="53" fill="#f5335a"/>
<rect x="108" y="654" width="1" height="54" fill="#f5335a"/>
<rect x="113" y="654" width="1" height="54" fill="#f5335a"/>
<rect x="118" y="657" width="1" height="51" fill="#f5335a"/>
<rect x="123" y="660" width="1" height="48" fill="#f5335a"/>
<rect x="128" y="662" width="1" height="46" fill="#f5335a"/>
<rect x="133" y="667" width="1" height="41" fill="#f5335a"/>
<rect x="138" y="665" width="1" height="43" fill="#f5335a"/>
<rect x="143" y="669" width="1" height="39" fill="#f5335a"/>
<rect x="148" y="672" width="1" height="36" fill="#f5335a"/>
<rect x="153" y="677" width="1" height="31" fill="#f5335a"/>
<rect x="158" y="683" width="1" height="25" fill="#f5335a"/>
<rect x="163" y="691" width="1" height="17" fill="#f5335a"/>
<rect x="168" y="697" width="1" height="11" fill="#f5335a"/>
<rect x="173" y="700" width="1" height="8" fill="#f5335a"/>
<rect x="178" y="707" width="1" height="3" fill="#33c880"/>
<rect x="183" y="707" width="1" height="13" fill="#33c880"/>
<rect x="188" y="707" width="1" height="11" fill="#33c880"/>
<rect x="193" y="707" width="1" height="5" fill="#33c880"/>
<rect x="198" y="707" width="1" height="2" fill="#33c880"/>
<rect x="203" y="707" width="1" height="7" fill="#33c880"/>
<rect x="208" y="707" width="1" height="15" fill="#33c880"/>
<rect x="213" y="707" width="1" height="25" fill="#33c880"/>
<rect x="218" y="707" width="1" height="21" fill="#33c880"/>
<rect x="223" y="707" width="1" height="19" fill="#33c880"/>
<rect x="228" y="707" width="1" height="18" fill="#33c880"/>
<rect x="233" y="707" width="1" height="17" fill="#33c880"/>
<rect x="238" y="707" width="1" height="19" fill="#33c880"/>
<rect x="243" y="707" width="1" height="21" fill="#33c880"/>
<rect x="248" y="707" width="1" height="20" fill="#33c880"/>
<rect x="253" y="707" width="1" height="25" fill="#33c880"/>
<rect x="258" y="707" width="1" height="19" fill="#33c880"/>
<rect x="263" y="707" width="1" height="13" fill="#33c880"/>
<rect x="268" y="707" width="1" height="9" fill="#33c880"/>
<rect x="273" y="707" width="1" height="11" fill="#33c880"/>
<rect x="278" y="707" width="1" height="13" fill="#33c880"/>
<rect x="283" y="707" width="1" height="20" fill="#33c880"/>
<rect x="288" y="707" width="1" height="23" fill="#33c880"/>
<rect x="293" y="707" width="1" height="19" fill="#33c880"/>
<rect x="298" y="707" width="1" height="15" fill="#33c880"/>
<rect x="303" y="707" width="1" height="13" fill="#33c880"/>
<rect x="308" y="707" width="1" height="11" fill="#33c880"/>
<rect x="313" y="701" width="1" height="7" fill="#f5335a"/>
<rect x="318" y="695" width="1" height="13" fill="#f5335a"/>
<rect x="323" y="691" width="1" height="17" fill="#f5335a"/>
<rect x="328" y="688" width="1" height="20" fill="#f5335a"/>
<rect x="333" y="684" width="1" height="24" fill="#f5335a"/>
<rect x="338" y="682" width="1" height="26" fill="#f5335a"/>
<rect x="343" y="679" width="1" height="29" fill="#f5335a"/>
<rect x="348" y="676" width="1" height="32" fill="#f5335a"/>
<rect x="353" y="679" width="1" height="29" fill="#f5335a"/>
<rect x="358" y="676" width="1" height="32" fill="#f5335a"/>
<rect x="363" y="678" width="1" height="30" fill="#f5335a"/>
<rect x="368" y="685" width="1" height="23" fill="#f5335a"/>
<rect x="373" y="692" width="1" height="16" fill="#f5335a"/>
<rect x="378" y="698" width="1" height="10" fill="#f5335a"/>
<rect x="383" y="707" width="1" height="1" fill="#33c880"/>
<rect x="388" y="707" width="1" height="7" fill="#33c880"/>
<rect x="393" y="707" width="1" height="8" fill="#33c880"/>
<rect x="398" y="707" width="1" height="4" fill="#33c880"/>
<rect x="403" y="703" width="1" height="5" fill="#f5335a"/>
<rect x="408" y="699" width="1" height="9" fill="#f5335a"/>
<rect x="413" y="700" width="1" height="8" fill="#f5335a"/>
<rect x="418" y="707" width="1" height="1" fill="#33c880"/>
<rect x="423" y="707" width="1" height="9" fill="#33c880"/>
<rect x="428" y="707" width="1" height="11" fill="#33c880"/>
<rect x="433" y="707" width="1" height="6" fill="#33c880"/>
<rect x="438" y="707" width="1" height="1" fill="#33c880"/>
<rect x="443" y="705" width="1" height="3" fill="#f5335a"/>
<rect x="448" y="701" width="1" height="7" fill="#f5335a"/>
<rect x="453" y="698" width="1" height="10" fill="#f5335a"/>
<rect x="458" y="691" width="1" height="17" fill="#f5335a"/>
<rect x="463" y="686" width="1" height="22" fill="#f5335a"/>
<rect x="468" y="681" width="1" height="27" fill="#f5335a"/>
<rect x="473" y="680" width="1" height="28" fill="#f5335a"/>
<rect x="478" y="679" width="1" height="29" fill="#f5335a"/>
<rect x="483" y="679" width="1" height="29" fill="#f5335a"/>
<rect x="488" y="680" width="1" height="28" fill="#f5335a"/>
<rect x="493" y="687" width="1" height="21" fill="#f5335a"/>
<rect x="498" y="690" width="1" height="18" fill="#f5335a"/>
<rect x="503" y="692" width="1" height="16" fill="#f5335a"/>
<rect x="508" y="694" width="1" height="14" fill="#f5335a"/>
<rect x="513" y="703" width="1" height="5" fill="#f5335a"/>
<rect x="518" y="707" width="1" height="4" fill="#33c880"/>
<rect x="523" y="707" width="1" height="11" fill="#33c880"/>
<rect x="528" y="707" width="1" height="11" fill="#33c880"/>
<rect x="533" y="707" width="1" height="13" fill="#33c880"/>
<rect x="538" y="707" width="1" height="18" fill="#33c880"/>
<rect x="543" y="707" width="1" height="20" fill="#33c880"/>
<rect x="548" y="707" width="1" height="19" fill="#33c880"/>
<rect x="553" y="707" width="1" height="18" fill="#33c880"/>
<rect x="558" y="707" width="1" height="23" fill="#33c880"/>
<rect x="563" y="707" width="1" height="29" fill="#33c880"/>
<rect x="568" y="707" width="1" height="37" fill="#33c880"/>
<rect x="573" y="707" width="1" height="40" fill="#33c880"/>
<rect x="578" y="707" width="1" height="41" fill="#33c880"/>
<rect x="583" y="707" width="1" height="42" fill="#33c880"/>
<rect x="588" y="707" width="1" height="38" fill="#33c880"/>
<rect x="593" y="707" width="1" height="40" fill="#33c880"/>
<rect x="598" y="707" width="1" height="35" fill="#33c880"/>
<rect x="603" y="707" width="1" height="27" fill="#33c880"/>
<rect x="608" y="707" width="1" height="13" fill="#33c880"/>
<rect x="613" y="707" width="1" height="6" fill="#33c880"/>
<rect x="618" y="707" width="1" height="3" fill="#33c880"/>
<rect x="623" y="704" width="1" height="4" fill="#f5335a"/>
<rect x="628" y="705" width="1" height="3" fill="#f5335a"/>
<rect x="633" y="707" width="1" height="3" fill="#33c880"/>
<rect x="638" y="707" width="1" height="4" fill="#33c880"/>
<rect x="643" y="707" width="1" height="3" fill="#33c880"/>
<rect x="648" y="707" width="1" height="1" fill="#33c880"/>
<rect x="653" y="705" width="1" height="3" fill="#f5335a"/>
<rect x="658" y="706" width="1" height="2" fill="#f5335a"/>
<rect x="663" y="700" width="1" height="8" fill="#f5335a"/>
<rect x="668" y="702" width="1" height="6" fill="#f5335a"/>
<rect x="673" y="703" width="1" height="5" fill="#f5335a"/>
<rect x="678" y="705" width="1" height="3" fill="#f5335a"/>
<rect x="683" y="707" width="1" height="2" fill="#33c880"/>
<rect x="688" y="707" width="1" height="9" fill="#33c880"/>
<rect x="693" y="707" width="1" height="16" fill="#33c880"/>
<rect x="698" y="707" width="1" height="20" fill="#33c880"/>
<rect x="703" y="707" width="1" height="25" fill="#33c880"/>
<rect x="708" y="707" width="1" height="29" fill="#33c880"/>
<rect x="713" y="707" width="1" height="28" fill="#33c880"/>
<rect x="718" y="707" width="1" height="27" fill="#33c880"/>
<rect x="723" y="707" width="1" height="27" fill="#33c880"/>
<rect x="728" y="707" width="1" height="32" fill="#33c880"/>
<rect x="733" y="707" width="1" height="30" fill="#33c880"/>
<rect x="738" y="707" width="1" height="28" fill="#33c880"/>
<rect x="743" y="707" width="1" height="19" fill="#33c880"/>
<rect x="748" y="707" width="1" height="9" fill="#33c880"/>
<rect x="753" y="704" width="1" height="4" fill="#f5335a"/>
<rect x="758" y="696" width="1" height="12" fill="#f5335a"/>
<rect x="763" y="694" width="1" height="14" fill="#f5335a"/>
<rect x="768" y="692" width="1" height="16" fill="#f5335a"/>
<rect x="773" y="685" width="1" height="23" fill="#f5335a"/>
<rect x="778" y="681" width="1" height="27" fill="#f5335a"/>
<rect x="783" y="685" width="1" height="23" fill="#f5335a"/>
<rect x="788" y="692" width="1" height="16" fill="#f5335a"/>
<rect x="793" y="702" width="1" height="6" fill="#f5335a"/>
<rect x="798" y="707" width="1" height="5" fill="#33c880"/>
<rect x="803" y="707" width="1" height="7" fill="#33c880"/>
<rect x="808" y="707" width="1" height="9" fill="#33c880"/>
<rect x="813" y="707" width="1" height="13" fill="#33c880"/>
<rect x="818" y="707" width="1" height="21" fill="#33c880"/>
<rect x="823" y="707" width="1" height="16" fill="#33c880"/>
<rect x="828" y="707" width="1" height="9" fill="#33c880"/>
<rect x="833" y="705" width="1" height="3" fill="#f5335a"/>
<rect x="838" y="689" width="1" height="19" fill="#f5335a"/>
<rect x="843" y="676" width="1" height="32" fill="#f5335a"/>
<rect x="848" y="668" width="1" height="40" fill="#f5335a"/>
<rect x="853" y="663" width="1" height="45" fill="#f5335a"/>
<rect x="858" y="663" width="1" height="45" fill="#f5335a"/>
<rect x="863" y="669" width="1" height="39" fill="#f5335a"/>
<rect x="868" y="669" width="1" height="39" fill="#f5335a"/>
<rect x="506" y="86" width="7" height="1" fill="#f0f0f0"/>
<rect x="508" y="84" width="1" height="4" fill="#f0f0f0"/>
<rect x="816" y="520" width="7" height="1" fill="#f0f0f0"/>
<rect x="818" y="518" width="1" height="4" fill="#f0f0f0"/>
<rect x="71" y="588" width="7" height="1" fill="#f0f0f0"/>
<rect x="73" y="586" width="1" height="4" fill="#f0f0f0"/>
<rect x="957" y="234" width="4" height="16" fill="#000"/>
<rect x="957" y="260" width="4" height="16" fill="#000"/>
<rect x="957" y="290" width="4" height="16" fill="#000"/>
<rect x="957" y="321" width="4" height="16" fill="#000"/>
<rect x="957" y="358" width="4" height="16" fill="#000"/>
<rect x="0" y="780" width="961" height="2" fill="#0e0e0e"/>
<rect x="74" y="780" width="1" height="2" fill="#222"/>
<rect x="132" y="780" width="1" height="2" fill="#222"/>
<rect x="160" y="780" width="1" height="2" fill="#222"/>
<rect x="200" y="780" width="1" height="2" fill="#222"/>
<rect x="275" y="780" width="1" height="2" fill="#222"/>
<rect x="485" y="780" width="1" height="2" fill="#222"/>
<rect x="545" y="780" width="1" height="2" fill="#222"/>
<rect x="0" y="780" width="34" height="2" fill="#ff6a00"/>
</g>
<polyline points="68.5,755.2 73.5,754.2 78.5,752.1 83.5,749.7 88.5,747.0 93.5,743.0 98.5,737.9 103.5,731.7 108.5,724.6 113.5,717.5 118.5,711.3 123.5,705.6 128.5,700.7 133.5,696.0 138.5,690.5 143.5,686.9 148.5,681.8 153.5,678.3 158.5,675.2 163.5,672.6 168.5,671.6 173.5,671.6 178.5,672.0 183.5,673.6 188.5,674.2 193.5,674.6 198.5,675.0 203.5,675.2 208.5,677.1 213.5,679.7 218.5,682.4 223.5,684.8 228.5,687.3 233.5,689.9 238.5,693.0 243.5,695.6 248.5,697.9 253.5,700.6 258.5,701.8 263.5,703.2 268.5,705.2 273.5,706.2 278.5,708.3 283.5,710.7 288.5,713.4 293.5,715.8 298.5,717.9 303.5,719.9 308.5,720.5 313.5,719.5 318.5,718.5 323.5,716.4 328.5,713.8 333.5,710.9 338.5,707.3 343.5,703.2 348.5,699.7 353.5,696.0 358.5,692.0 363.5,688.9 368.5,686.5 373.5,684.8 378.5,684.2 383.5,684.4 388.5,685.4 393.5,686.3 398.5,685.9 403.5,685.4 408.5,684.8 413.5,684.4 418.5,684.8 423.5,685.9 428.5,686.9 433.5,687.3 438.5,687.3 443.5,686.9 448.5,686.3 453.5,685.2 458.5,682.8 463.5,678.7 468.5,675.7 473.5,672.6 478.5,668.9 483.5,666.1 488.5,663.4 493.5,661.0 498.5,658.9 503.5,656.9 508.5,655.9 513.5,655.7 518.5,656.3 523.5,657.3 528.5,659.3 533.5,660.8 538.5,663.0 543.5,666.1 548.5,668.1 553.5,670.6 558.5,673.2 563.5,675.7 568.5,680.8 573.5,685.9 578.5,690.9 583.5,696.7 588.5,701.8 593.5,706.2 598.5,709.7 603.5,712.4 608.5,713.8 613.5,714.8 618.5,715.0 623.5,714.4 628.5,714.2 633.5,715.0 638.5,715.4 643.5,715.4 648.5,715.4 653.5,715.4 658.5,715.0 663.5,714.4 668.5,714.0 673.5,713.4 678.5,713.0 683.5,713.4 688.5,715.4 693.5,717.9 698.5,720.9 703.5,724.0 708.5,727.3 713.5,730.7 718.5,733.4 723.5,736.8 728.5,740.5 733.5,744.0 738.5,747.0 743.5,749.1 748.5,750.1 753.5,750.1 758.5,748.5 763.5,747.0 768.5,745.5 773.5,742.4 778.5,739.4 783.5,736.5 788.5,734.8 793.5,734.6 798.5,735.3 803.5,735.6 808.5,736.8 813.5,738.6 818.5,740.5 823.5,741.9 828.5,743.4 833.5,743.0 838.5,741.3 843.5,738.3 848.5,733.8 853.5,728.7 858.5,722.6 863.5,718.1 868.5,713.0" fill="none" stroke="#e0e000" stroke-width="1" shape-rendering="crispEdges"/>
<polyline points="68.5,753.9 73.5,750.4 78.5,746.0 83.5,741.7 88.5,735.7 93.5,728.1 98.5,718.3 103.5,707.1 108.5,697.6 113.5,691.1 118.5,686.1 123.5,682.0 128.5,678.0 133.5,675.9 138.5,670.6 143.5,667.8 148.5,664.5 153.5,663.2 158.5,663.2 163.5,665.2 168.5,666.4 173.5,667.5 178.5,672.4 183.5,679.8 188.5,679.5 193.5,676.9 198.5,675.8 203.5,679.4 208.5,684.7 213.5,692.1 218.5,693.6 223.5,695.0 228.5,696.5 233.5,698.2 238.5,702.3 243.5,705.6 248.5,707.5 253.5,712.7 258.5,711.3 263.5,710.1 268.5,709.4 273.5,711.5 278.5,715.4 283.5,720.6 288.5,724.1 293.5,724.7 298.5,724.9 303.5,726.5 308.5,725.5 313.5,716.0 318.5,711.7 323.5,707.6 328.5,703.7 333.5,699.6 338.5,694.4 343.5,689.3 348.5,685.0 353.5,681.9 358.5,677.3 363.5,674.8 368.5,675.6 373.5,677.6 378.5,680.5 383.5,685.0 388.5,688.7 393.5,689.8 398.5,688.0 403.5,683.7 408.5,680.9 413.5,680.3 418.5,684.5 423.5,689.5 428.5,691.5 433.5,690.3 438.5,688.2 443.5,685.9 448.5,683.1 453.5,680.9 458.5,674.8 463.5,669.1 468.5,663.9 473.5,659.7 478.5,655.6 483.5,652.9 488.5,650.2 493.5,651.5 498.5,651.0 503.5,650.0 508.5,650.2 513.5,653.5 518.5,658.3 523.5,663.1 528.5,664.7 533.5,666.9 538.5,671.5 543.5,674.6 548.5,676.8 553.5,679.1 558.5,684.2 563.5,690.1 568.5,698.6 573.5,704.9 578.5,710.9 583.5,716.4 588.5,719.5 593.5,724.4 598.5,726.6 603.5,725.5 608.5,721.2 613.5,717.9 618.5,715.7 623.5,713.2 628.5,714.0 633.5,716.1 638.5,717.3 643.5,717.0 648.5,715.7 653.5,714.8 658.5,714.5 663.5,711.2 668.5,711.2 673.5,711.4 678.5,712.3 683.5,714.4 688.5,720.5 693.5,725.7 698.5,730.2 703.5,735.5 708.5,740.7 713.5,743.7 718.5,747.0 723.5,750.9 728.5,755.8 733.5,758.7 738.5,760.3 743.5,758.8 748.5,755.0 753.5,750.2 758.5,743.6 763.5,740.9 768.5,738.0 773.5,731.7 778.5,726.6 783.5,725.3 788.5,727.4 793.5,731.9 798.5,737.3 803.5,738.5 808.5,740.7 813.5,744.4 818.5,751.1 823.5,750.1 828.5,747.4 833.5,742.7 838.5,732.7 843.5,723.4 848.5,714.4 853.5,706.5 858.5,700.4 863.5,698.6 868.5,694.1" fill="none" stroke="#f2f2f2" stroke-width="1" shape-rendering="crispEdges"/>
<g shape-rendering="crispEdges"><rect x="453" y="33" width="4" height="2" fill="#1c92ec"/><rect x="454" y="32" width="2" height="4" fill="#1c92ec"/><rect x="454" y="33" width="2" height="2" fill="#1b84d8"/></g>
<g shape-rendering="crispEdges"><rect x="698" y="33" width="4" height="2" fill="#1c92ec"/><rect x="699" y="32" width="2" height="4" fill="#1c92ec"/><rect x="699" y="33" width="2" height="2" fill="#1b84d8"/></g>
<g font-family="'Liberation Sans','Noto Sans CJK SC',sans-serif">
<text x="61.6" y="28.5" fill="#f6f6f6" font-size="12" text-anchor="end" textLength="51.4" lengthAdjust="spacing">36144.00</text>
<text x="901" y="28.5" fill="#f6f6f6" font-size="12" text-anchor="start" textLength="51.4" lengthAdjust="spacing">36144.00</text>
<text x="61.6" y="82.5" fill="#f6f6f6" font-size="12" text-anchor="end" textLength="51.4" lengthAdjust="spacing">35721.95</text>
<text x="901" y="82.5" fill="#f6f6f6" font-size="12" text-anchor="start" textLength="51.4" lengthAdjust="spacing">35721.95</text>
<text x="61.6" y="137.5" fill="#f6f6f6" font-size="12" text-anchor="end" textLength="51.4" lengthAdjust="spacing">35299.90</text>
<text x="901" y="137.5" fill="#f6f6f6" font-size="12" text-anchor="start" textLength="51.4" lengthAdjust="spacing">35299.90</text>
<text x="61.6" y="192.5" fill="#f6f6f6" font-size="12" text-anchor="end" textLength="51.4" lengthAdjust="spacing">34877.86</text>
<text x="901" y="192.5" fill="#f6f6f6" font-size="12" text-anchor="start" textLength="51.4" lengthAdjust="spacing">34877.86</text>
<text x="61.6" y="246.5" fill="#f6f6f6" font-size="12" text-anchor="end" textLength="51.4" lengthAdjust="spacing">34455.80</text>
<text x="901" y="246.5" fill="#f6f6f6" font-size="12" text-anchor="start" textLength="51.4" lengthAdjust="spacing">34455.80</text>
<text x="61.6" y="301.5" fill="#f6f6f6" font-size="12" text-anchor="end" textLength="51.4" lengthAdjust="spacing">34033.76</text>
<text x="901" y="301.5" fill="#f6f6f6" font-size="12" text-anchor="start" textLength="51.4" lengthAdjust="spacing">34033.76</text>
<text x="61.6" y="356.5" fill="#f6f6f6" font-size="12" text-anchor="end" textLength="51.4" lengthAdjust="spacing">33611.71</text>
<text x="901" y="356.5" fill="#f6f6f6" font-size="12" text-anchor="start" textLength="51.4" lengthAdjust="spacing">33611.71</text>
<text x="61.6" y="411.5" fill="#f6f6f6" font-size="12" text-anchor="end" textLength="51.4" lengthAdjust="spacing">33189.66</text>
<text x="901" y="411.5" fill="#f6f6f6" font-size="12" text-anchor="start" textLength="51.4" lengthAdjust="spacing">33189.66</text>
<text x="61.6" y="465.5" fill="#f6f6f6" font-size="12" text-anchor="end" textLength="51.4" lengthAdjust="spacing">32767.61</text>
<text x="901" y="465.5" fill="#f6f6f6" font-size="12" text-anchor="start" textLength="51.4" lengthAdjust="spacing">32767.61</text>
<text x="61.6" y="520.5" fill="#f6f6f6" font-size="12" text-anchor="end" textLength="51.4" lengthAdjust="spacing">32345.56</text>
<text x="901" y="520.5" fill="#f6f6f6" font-size="12" text-anchor="start" textLength="51.4" lengthAdjust="spacing">32345.56</text>
<text x="61.6" y="575.5" fill="#f6f6f6" font-size="12" text-anchor="end" textLength="51.4" lengthAdjust="spacing">31923.51</text>
<text x="901" y="575.5" fill="#f6f6f6" font-size="12" text-anchor="start" textLength="51.4" lengthAdjust="spacing">31923.51</text>
<text x="61.6" y="652.5" fill="#f6f6f6" font-size="12" text-anchor="end" textLength="37.6" lengthAdjust="spacing">424.53</text>
<text x="901" y="652.5" fill="#f6f6f6" font-size="12" text-anchor="start" textLength="37.6" lengthAdjust="spacing">424.53</text>
<text x="61.6" y="679.5" fill="#f6f6f6" font-size="12" text-anchor="end" textLength="37.6" lengthAdjust="spacing">218.47</text>
<text x="901" y="679.5" fill="#f6f6f6" font-size="12" text-anchor="start" textLength="37.6" lengthAdjust="spacing">218.47</text>
<text x="61.6" y="707.5" fill="#f6f6f6" font-size="12" text-anchor="end" textLength="30.8" lengthAdjust="spacing">12.42</text>
<text x="901" y="707.5" fill="#f6f6f6" font-size="12" text-anchor="start" textLength="30.8" lengthAdjust="spacing">12.42</text>
<text x="61.6" y="735.5" fill="#f6f6f6" font-size="12" text-anchor="end" textLength="41.9" lengthAdjust="spacing">-193.64</text>
<text x="901" y="735.5" fill="#f6f6f6" font-size="12" text-anchor="start" textLength="41.9" lengthAdjust="spacing">-193.64</text>
<rect x="899" y="209" width="62" height="16" fill="#000" shape-rendering="crispEdges"/>
<text x="901" y="220.5" fill="#f0953a" font-size="12" text-anchor="start" textLength="52" lengthAdjust="spacing">34732.73</text>
<rect x="898" y="283" width="59" height="18" fill="#000" shape-rendering="crispEdges"/><path d="M957 283.5 H898.5 V300.5 H957" fill="none" stroke="#f0953a" stroke-width="1" shape-rendering="crispEdges"/>
<text x="901" y="295.5" fill="#f0953a" font-size="12" text-anchor="start" textLength="52" lengthAdjust="spacing">34155.36</text>
<text x="67" y="17.7" fill="#f0f0f0" font-size="12" transform="translate(0,17.7) scale(1,1.07) translate(0,-17.7)">道琼工业</text>
<text x="113.2" y="17.7" fill="#ff6a00" font-size="12" transform="translate(0,17.7) scale(1,1.07) translate(0,-17.7)">【<tspan dx="1.6">日线</tspan><tspan dx="1.4">】</tspan></text>
<text x="513.6" y="83" fill="#f0334f" font-size="12" text-anchor="start" font-weight="bold" textLength="51" lengthAdjust="spacing">35679.13</text>
<text x="823" y="532" fill="#30c47c" font-size="12" text-anchor="start" font-weight="bold" textLength="51" lengthAdjust="spacing">32327.20</text>
<text x="78" y="600" fill="#30c47c" font-size="12" text-anchor="start" font-weight="bold" textLength="51" lengthAdjust="spacing">31805.18</text>
<text x="67" y="642" fill="#e8e8e8" font-size="12" text-anchor="start" textLength="85" lengthAdjust="spacing">MACD(26,12,9)</text>
<text x="158" y="642" fill="#e8e8e8" font-size="12" text-anchor="start" textLength="58" lengthAdjust="spacing">DIFF:99.38</text>
<text x="225" y="642" fill="#cfcf24" font-size="12" text-anchor="start" textLength="61.7" lengthAdjust="spacing">DEA:-38.73</text>
<text x="296" y="642" fill="#cc22cc" font-size="12" text-anchor="start" textLength="77.3" lengthAdjust="spacing">MACD:276.23</text>
<text x="105" y="773" fill="#f8f8f8" font-size="12" text-anchor="start" font-weight="bold" textLength="45" lengthAdjust="spacing">2023/04</text>
<text x="200" y="773" fill="#f8f8f8" font-size="12" text-anchor="start" font-weight="bold" textLength="45" lengthAdjust="spacing">2023/05</text>
<text x="310" y="773" fill="#f8f8f8" font-size="12" text-anchor="start" font-weight="bold" textLength="45" lengthAdjust="spacing">2023/06</text>
<text x="410" y="773" fill="#f8f8f8" font-size="12" text-anchor="start" font-weight="bold" textLength="45" lengthAdjust="spacing">2023/07</text>
<text x="510" y="773" fill="#f8f8f8" font-size="12" text-anchor="start" font-weight="bold" textLength="45" lengthAdjust="spacing">2023/08</text>
<text x="725" y="773" fill="#f8f8f8" font-size="12" text-anchor="start" font-weight="bold" textLength="45" lengthAdjust="spacing">2023/10</text>
<text x="835" y="773" fill="#f8f8f8" font-size="12" text-anchor="start" font-weight="bold" textLength="45" lengthAdjust="spacing">2023/11</text>
<rect x="626" y="761" width="109" height="17" fill="#000" shape-rendering="crispEdges"/>
<text x="628" y="773.5" fill="#f0953a" font-size="13">2023/09/05<tspan font-size="12" dx="4">星期二</tspan></text>
<text x="9" y="776" fill="#ff6a00" font-size="12.5" text-anchor="start" font-weight="bold" >日线</text>
<path d="M44.5 767 L49.5 775.5 L39.5 775.5 Z" fill="#ff6a00"/>
</g>
<g>
<circle cx="4" cy="634.8" r="4.2" fill="#000"/><circle cx="4" cy="634.8" r="3.2" fill="#fff"/><circle cx="4" cy="634.8" r="2" fill="#f00"/>
<g stroke="#f00" stroke-width="1.2"><line x1="3.5" y1="627.7" x2="3.5" y2="630"/><line x1="3.5" y1="639.8" x2="3.5" y2="642"/><line x1="9" y1="634.5" x2="11.2" y2="634.5"/><line x1="8.2" y1="630.8" x2="10" y2="629"/><line x1="8.2" y1="638.8" x2="10" y2="640.6"/></g>
</g>
<g shape-rendering="crispEdges">
<rect x="835.5" y="5.5" width="13" height="13" fill="#080808" stroke="#c4c4c4" stroke-width="1"/>
<rect x="851.5" y="5.5" width="13" height="13" fill="#080808" stroke="#c4c4c4" stroke-width="1"/>
<rect x="867.5" y="5.5" width="13" height="13" fill="#080808" stroke="#c4c4c4" stroke-width="1"/>
<rect x="883.5" y="5.5" width="13" height="13" fill="#080808" stroke="#c4c4c4" stroke-width="1"/>
<rect x="837" y="11" width="3" height="2" fill="#b8b8b8"/>
<rect x="841" y="11" width="2" height="2" fill="#b8b8b8"/>
<rect x="844" y="11" width="3" height="2" fill="#b8b8b8"/>
<rect x="841" y="7" width="2" height="3" fill="#b8b8b8"/>
<rect x="841" y="14" width="2" height="3" fill="#b8b8b8"/>
</g>
<path d="M854.5 7 V16.5 M853 15.5 H863" stroke="#c4c4c4" stroke-width="1" fill="none"/><path d="M854.5 6.5 l-1.6 2.2 h3.2 Z M863.4 15.5 l-2.2 -1.6 v3.2 Z M852.8 15.5 l1.6 -1.3 v2.6 Z M854.5 17.3 l-1.3 -1.4 h2.6Z" fill="#c4c4c4"/>
<path d="M857.5 8 V14" stroke="#c4c4c4" stroke-width="1"/><path d="M858.3 10.6 L861.4 7.7 V13.5 Z" fill="#c4c4c4"/>
<path d="M870.5 7 V16.5 M869 15.5 H879" stroke="#c4c4c4" stroke-width="1" fill="none"/><path d="M870.5 6.5 l-1.6 2.2 h3.2 Z M879.4 15.5 l-2.2 -1.6 v3.2 Z M868.8 15.5 l1.6 -1.3 v2.6 Z M870.5 17.3 l-1.3 -1.4 h2.6Z" fill="#c4c4c4"/>
<path d="M873 8 L877.8 11.3 L873 14.6 Z" fill="#b0b0b0"/>
<rect x="885.5" y="7.5" width="3" height="9" fill="none" stroke="#c4c4c4" stroke-width="1" shape-rendering="crispEdges"/>
<path d="M887 11.5 H892" stroke="#c4c4c4" stroke-width="1.6"/><path d="M890.6 9 L894 11.5 L890.6 14 Z" fill="#c4c4c4"/>
</svg>
</body></html>
